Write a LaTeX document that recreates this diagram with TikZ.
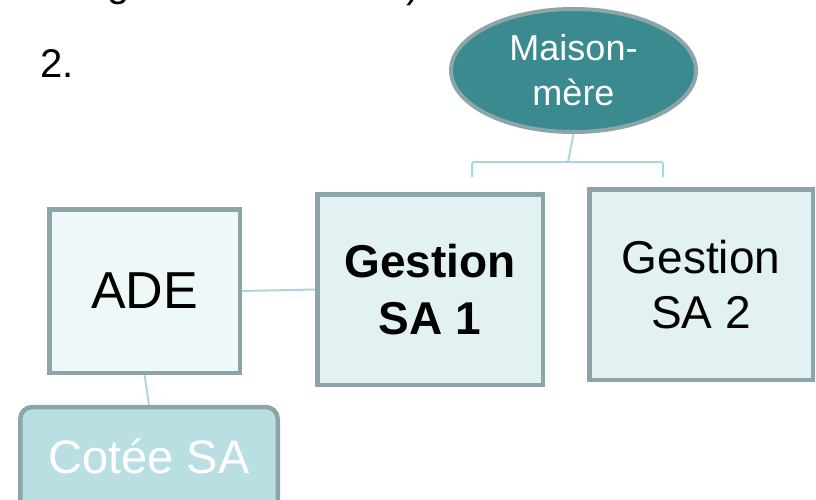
\documentclass[tikz,border=0pt]{standalone}
\usepackage{fontspec}
\setmainfont{Liberation Sans}
\usetikzlibrary{shapes.geometric}
\definecolor{rim}{HTML}{8BA5A8}
\definecolor{teal}{HTML}{3A8A8F}
\definecolor{paleA}{HTML}{EFF8F8}
\definecolor{paleB}{HTML}{E2F2F3}
\definecolor{cyanfill}{HTML}{BADFE2}
\definecolor{wire}{HTML}{A9D8DC}
\tikzset{
  unitbox/.style={draw=rim, line width=4.5pt, rectangle, inner sep=0pt, align=center},
  link/.style={draw=wire, line width=2pt},
}
\begin{document}
\begin{tikzpicture}[x=1pt, y=-1pt]
\useasboundingbox (0,0) rectangle (816,500);
\clip (0,0) rectangle (816,500);

% heading fragments cut by the top edge, and the item number
\node[anchor=base, font=\fontsize{40}{48}\selectfont, inner sep=0pt] (topg) at (119,-3) {g};
\node[anchor=base, font=\fontsize{40}{48}\selectfont, inner sep=0pt] (topparen) at (413,-2) {)};
\node[anchor=base west, font=\fontsize{40}{48}\selectfont, inner sep=0pt] (num) at (40,78) {2.};

% parent company
\node[ellipse, draw=rim, line width=4pt, fill=teal, text=white, inner sep=0pt,
      minimum width=245pt, minimum height=123pt, align=center,
      font=\fontsize{36}{45}\selectfont] (maison) at (573.5,70.5) {Maison-\\mère};

% subsidiaries
\node[unitbox, fill=paleA, minimum width=190.5pt, minimum height=163.5pt,
      font=\fontsize{52}{60}\selectfont] (ade) at (144.5,291) {ADE};
\node[unitbox, fill=paleB, minimum width=225.5pt, minimum height=190.5pt,
      font=\fontsize{46}{57}\selectfont\bfseries] (sa1) at (430,289.5) {Gestion\\SA 1};
\node[unitbox, fill=paleB, minimum width=223.5pt, minimum height=190.5pt,
      font=\fontsize{46}{55}\selectfont] (sa2) at (701,284.5) {Gestion\\SA 2};

% listed company
\node[draw=rim, line width=4.5pt, fill=cyanfill, text=white, rounded corners=12pt,
      inner sep=0pt, minimum width=257.5pt, minimum height=108pt,
      text height=35pt, text depth=11pt,
      font=\fontsize{47}{56}\selectfont] (cotee) at (149,461) {Cotée SA};

% connectors
\coordinate (fork) at (568,162);
\coordinate (legL) at (472,177);
\coordinate (legR) at (663,177);
\draw[link] (maison.south) -- (fork);
\draw[link, rounded corners=2pt] (legL) |- (fork) -| (legR);
\draw[link] (ade.east) -- (sa1.west);
\draw[link] (ade.south) -- (cotee.north);
\end{tikzpicture}
\end{document}
